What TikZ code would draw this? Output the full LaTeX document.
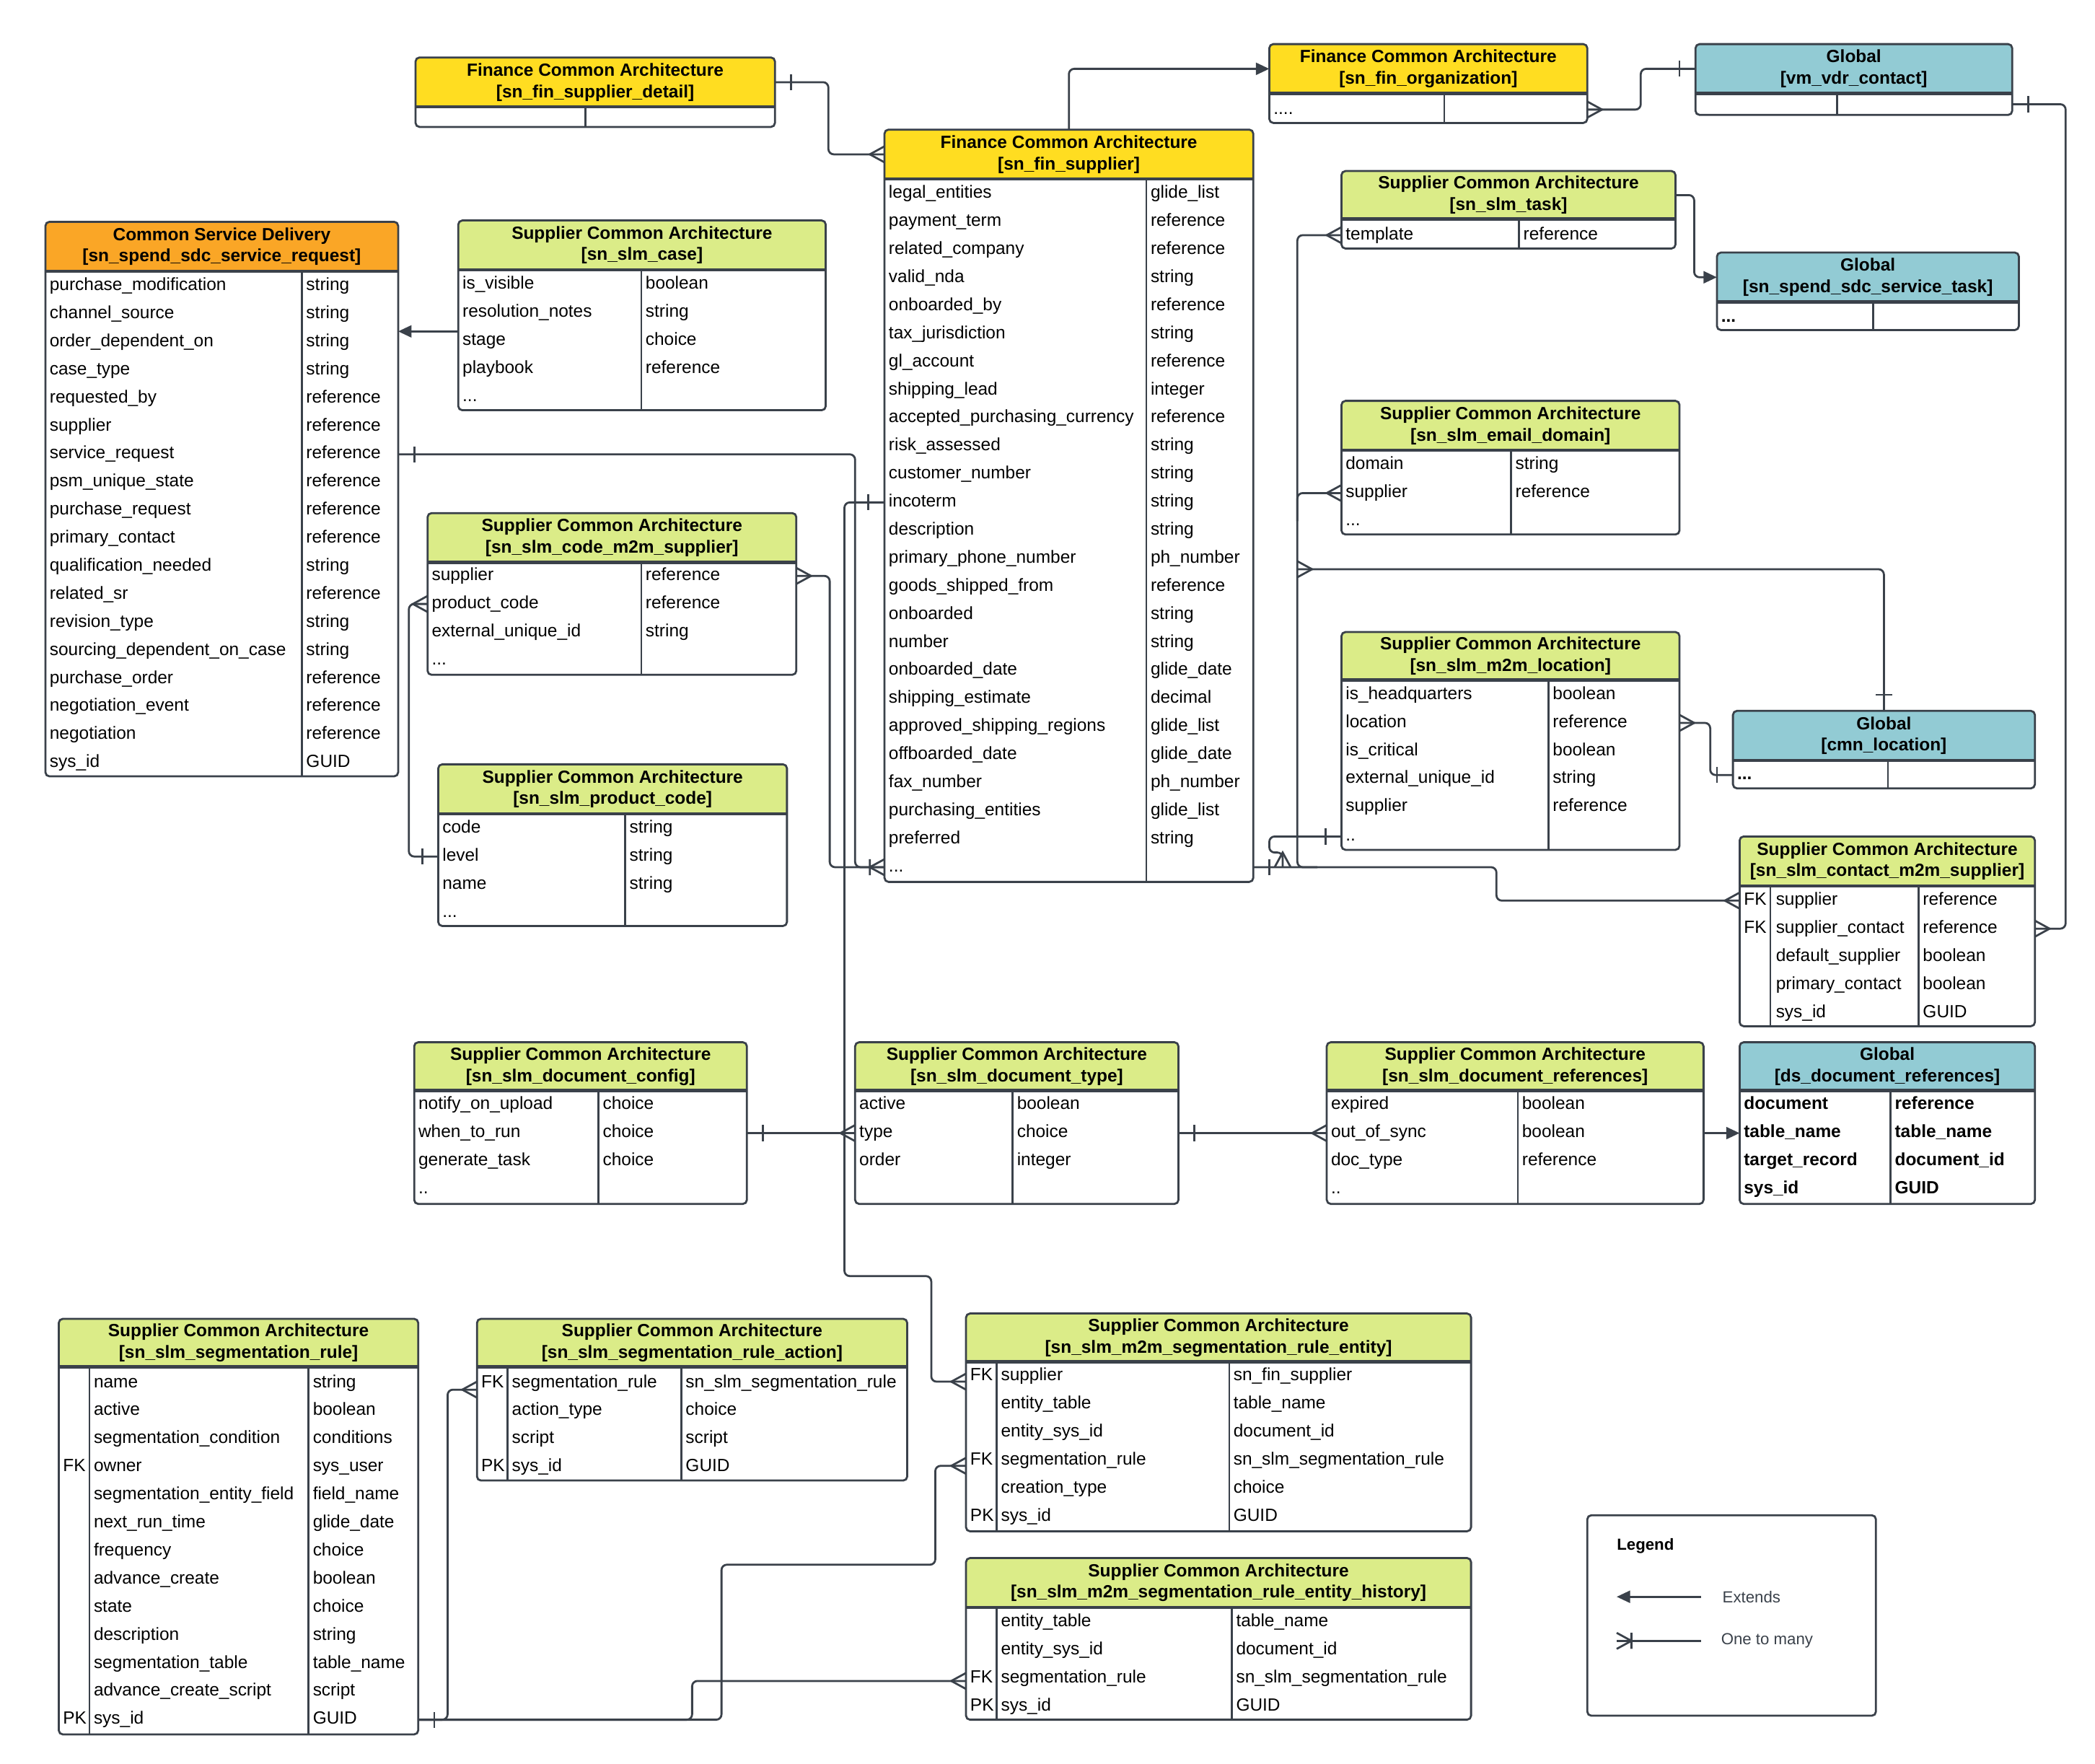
\documentclass[tikz,border=0pt]{standalone}
\usepackage{fontspec}
\setmainfont{Liberation Sans}
\usetikzlibrary{arrows.meta,calc}

\definecolor{linecol}{HTML}{3A414A}
\definecolor{finyellow}{HTML}{FFDD21}
\definecolor{sdcorange}{HTML}{FAA626}
\definecolor{slmgreen}{HTML}{DBEC88}
\definecolor{globalteal}{HTML}{92CBD4}

\pgfdeclarearrow{
  name = Crow,
  setup code = {
    \pgfarrowssettipend{0pt}
    \pgfarrowssetlineend{0pt}
    \pgfarrowssetbackend{-11pt}
    \pgfarrowsupperhullpoint{0pt}{6pt}
    \pgfarrowsupperhullpoint{-11pt}{0pt}
  },
  drawing code = {
    \pgfpathmoveto{\pgfqpoint{0pt}{6pt}}
    \pgfpathlineto{\pgfqpoint{-11pt}{0pt}}
    \pgfpathlineto{\pgfqpoint{0pt}{-6pt}}
    \pgfusepathqstroke
  }
}
\pgfdeclarearrow{
  name = OneBar,
  setup code = {
    \pgfarrowssettipend{0pt}
    \pgfarrowssetlineend{0pt}
    \pgfarrowssetbackend{-12pt}
    \pgfarrowsupperhullpoint{0pt}{0pt}
    \pgfarrowsupperhullpoint{-12pt}{6pt}
  },
  drawing code = {
    \pgfpathmoveto{\pgfqpoint{-12pt}{6pt}}
    \pgfpathlineto{\pgfqpoint{-12pt}{-6pt}}
    \pgfusepathqstroke
  }
}
\pgfdeclarearrow{
  name = CrowBar,
  setup code = {
    \pgfarrowssettipend{0pt}
    \pgfarrowssetlineend{0pt}
    \pgfarrowssetbackend{-11pt}
    \pgfarrowsupperhullpoint{0pt}{6pt}
    \pgfarrowsupperhullpoint{-11pt}{6pt}
  },
  drawing code = {
    \pgfpathmoveto{\pgfqpoint{0pt}{6pt}}
    \pgfpathlineto{\pgfqpoint{-11pt}{0pt}}
    \pgfpathlineto{\pgfqpoint{0pt}{-6pt}}
    \pgfpathmoveto{\pgfqpoint{-11pt}{6pt}}
    \pgfpathlineto{\pgfqpoint{-11pt}{-6pt}}
    \pgfusepathqstroke
  }
}

\newcommand{\ertable}[8]{%
  \node[tablebox, minimum width={#5-#3}, minimum height={#6-#4}] (#1) at ({(#3+#5)/2},{(#4+#6)/2}) {};
  \begin{scope}
    \clip (#3,#4) rectangle (#5,#7);
    \fill[#2, rounded corners=3pt] (#3,#4) rectangle (#5,#6);
  \end{scope}
  \draw[hdrrule] (#3,#7) -- (#5,#7);
  \path[frame] (#3,#4) rectangle (#5,#6);
  \node[titlebox, minimum width={#5-#3}, minimum height={#7-#4}] (#1-t) at ({(#3+#5)/2},{(#4+#7)/2}) {#8};
}

\begin{document}
\begin{tikzpicture}[x=1pt, y=-1pt,
  tablebox/.style={fill=white, rounded corners=3pt, inner sep=0pt, outer sep=0pt},
  frame/.style={draw=linecol, line width=1.5pt, rounded corners=3pt},
  hdrrule/.style={draw=linecol, line width=2.5pt},
  colrule/.style={draw=linecol, line width=1.5pt},
  titlebox/.style={inner sep=0pt, outer sep=0pt, align=center, font=\fontsize{13.2}{16}\selectfont\bfseries},
  cell/.style={anchor=west, inner sep=0pt, yshift=-2pt, text height=9.5pt, text depth=2.8pt, font=\fontsize{13.2}{16}\selectfont},
  boldcell/.style={cell, font=\fontsize{13.2}{16}\selectfont\bfseries},
  conn/.style={draw=linecol, line width=1.5pt, rounded corners=4pt},
  extends/.style={-{Triangle[length=10pt,width=9pt]}},
  legendtext/.style={anchor=west, inner sep=0pt, text=linecol, font=\fontsize{12}{14}\selectfont},
]
\useasboundingbox (0,0) rectangle (1568,1320);

\ertable{fsd}{finyellow}{311}{43}{580}{95}{80}{Finance Common Architecture\\{[sn\_fin\_supplier\_detail]}}
\draw[colrule] (438,80) -- (438,95);

\ertable{finsup}{finyellow}{662}{97}{938}{660}{134}{Finance Common Architecture\\{[sn\_fin\_supplier]}}
\draw[colrule] (858,134) -- (858,660);
\foreach \n/\t [count=\i from 0] in {legal\_entities/glide\_list, payment\_term/reference, related\_company/reference,
    valid\_nda/string, onboarded\_by/reference, tax\_jurisdiction/string, gl\_account/reference, shipping\_lead/integer,
    accepted\_purchasing\_currency/reference, risk\_assessed/string, customer\_number/string, incoterm/string,
    description/string, primary\_phone\_number/ph\_number, goods\_shipped\_from/reference, onboarded/string,
    number/string, onboarded\_date/glide\_date, shipping\_estimate/decimal, approved\_shipping\_regions/glide\_list,
    offboarded\_date/glide\_date, fax\_number/ph\_number, purchasing\_entities/glide\_list, preferred/string} {
  \node[cell] (finsup-\i) at (665,{143+21*\i}) {\n};
  \node[cell] at (861,{143+21*\i}) {\t};
}
\node[cell] (finsup-dots) at (665,647) {...};

\ertable{finorg}{finyellow}{950}{33}{1188}{92}{70}{Finance Common Architecture\\{[sn\_fin\_organization]}}
\draw[colrule] (1081,70) -- (1081,92);
\node[cell] (finorg-dots) at (953,80) {....};

\ertable{vmvdr}{globalteal}{1269}{33}{1506}{86}{70}{Global\\{[vm\_vdr\_contact]}}
\draw[colrule] (1375,70) -- (1375,86);

\ertable{slmtask}{slmgreen}{1004}{128}{1254}{186}{164}{Supplier Common Architecture\\{[sn\_slm\_task]}}
\draw[colrule] (1137,164) -- (1137,186);
\node[cell] (slmtask-0) at (1007,174) {template};
\node[cell] at (1140,174) {reference};

\ertable{sdctask}{globalteal}{1285}{189}{1511}{247}{226}{Global\\{[sn\_spend\_sdc\_service\_task]}}
\draw[colrule] (1402,226) -- (1402,247);
\node[boldcell] (sdctask-dots) at (1288,236) {...};

\ertable{email}{slmgreen}{1004}{300}{1257}{400}{337}{Supplier Common Architecture\\{[sn\_slm\_email\_domain]}}
\draw[colrule] (1131,337) -- (1131,400);
\foreach \n/\t [count=\i from 0] in {domain/string, supplier/reference} {
  \node[cell] (email-\i) at (1007,{346+21*\i}) {\n};
  \node[cell] at (1134,{346+21*\i}) {\t};
}
\node[cell] (email-dots) at (1007,388) {...};

\ertable{m2mloc}{slmgreen}{1004}{473}{1257}{636}{509}{Supplier Common Architecture\\{[sn\_slm\_m2m\_location]}}
\draw[colrule] (1159,509) -- (1159,636);
\foreach \n/\t [count=\i from 0] in {is\_headquarters/boolean, location/reference, is\_critical/boolean,
    external\_unique\_id/string, supplier/reference} {
  \node[cell] (m2mloc-\i) at (1007,{518+21*\i}) {\n};
  \node[cell] at (1162,{518+21*\i}) {\t};
}
\node[cell] (m2mloc-dots) at (1007,624) {..};

\ertable{cmnloc}{globalteal}{1297}{532}{1523}{590}{569}{Global\\{[cmn\_location]}}
\draw[colrule] (1413,569) -- (1413,590);
\node[boldcell] (cmnloc-dots) at (1300,578) {...};

\ertable{contact}{slmgreen}{1302}{626}{1523}{768}{663}{Supplier Common Architecture\\{[sn\_slm\_contact\_m2m\_supplier]}}
\draw[colrule] (1325,663) -- (1325,768);
\draw[colrule] (1436,663) -- (1436,768);
\foreach \k/\n/\t [count=\i from 0] in {FK/supplier/reference, FK/supplier\_contact/reference,
    /default\_supplier/boolean, /primary\_contact/boolean, /sys\_id/GUID} {
  \node[cell] at (1305,{672+21*\i}) {\k};
  \node[cell] (contact-\i) at (1329,{672+21*\i}) {\n};
  \node[cell] at (1439,{672+21*\i}) {\t};
}

\ertable{sr}{sdcorange}{34}{166}{298}{581}{203}{Common Service Delivery\\{[sn\_spend\_sdc\_service\_request]}}
\draw[colrule] (226,203) -- (226,581);
\foreach \n/\t [count=\i from 0] in {purchase\_modification/string, channel\_source/string, order\_dependent\_on/string,
    case\_type/string, requested\_by/reference, supplier/reference, service\_request/reference,
    psm\_unique\_state/reference, purchase\_request/reference, primary\_contact/reference,
    qualification\_needed/string, related\_sr/reference, revision\_type/string,
    sourcing\_dependent\_on\_case/string, purchase\_order/reference, negotiation\_event/reference,
    negotiation/reference, sys\_id/GUID} {
  \node[cell] (sr-\i) at (37,{212+21*\i}) {\n};
  \node[cell] at (229,{212+21*\i}) {\t};
}

\ertable{case}{slmgreen}{343}{165}{618}{307}{202}{Supplier Common Architecture\\{[sn\_slm\_case]}}
\draw[colrule] (480,202) -- (480,307);
\foreach \n/\t [count=\i from 0] in {is\_visible/boolean, resolution\_notes/string, stage/choice, playbook/reference} {
  \node[cell] (case-\i) at (346,{211+21*\i}) {\n};
  \node[cell] at (483,{211+21*\i}) {\t};
}
\node[cell] (case-dots) at (346,295) {...};

\ertable{codem2m}{slmgreen}{320}{384}{596}{505}{421}{Supplier Common Architecture\\{[sn\_slm\_code\_m2m\_supplier]}}
\draw[colrule] (480,421) -- (480,505);
\foreach \n/\t [count=\i from 0] in {supplier/reference, product\_code/reference, external\_unique\_id/string} {
  \node[cell] (codem2m-\i) at (323,{429+21*\i}) {\n};
  \node[cell] at (483,{429+21*\i}) {\t};
}
\node[cell] (codem2m-dots) at (323,492) {...};

\ertable{prodcode}{slmgreen}{328}{572}{589}{693}{609}{Supplier Common Architecture\\{[sn\_slm\_product\_code]}}
\draw[colrule] (468,609) -- (468,693);
\foreach \n/\t [count=\i from 0] in {code/string, level/string, name/string} {
  \node[cell] (prodcode-\i) at (331,{618+21*\i}) {\n};
  \node[cell] at (471,{618+21*\i}) {\t};
}
\node[cell] (prodcode-dots) at (331,681) {...};

\ertable{docconf}{slmgreen}{310}{780}{559}{901}{816}{Supplier Common Architecture\\{[sn\_slm\_document\_config]}}
\draw[colrule] (448,816) -- (448,901);
\foreach \n/\t [count=\i from 0] in {notify\_on\_upload/choice, when\_to\_run/choice, generate\_task/choice} {
  \node[cell] (docconf-\i) at (313,{825+21*\i}) {\n};
  \node[cell] at (451,{825+21*\i}) {\t};
}
\node[cell] (docconf-dots) at (313,888) {..};

\ertable{doctype}{slmgreen}{640}{780}{882}{901}{816}{Supplier Common Architecture\\{[sn\_slm\_document\_type]}}
\draw[colrule] (758,816) -- (758,901);
\foreach \n/\t [count=\i from 0] in {active/boolean, type/choice, order/integer} {
  \node[cell] (doctype-\i) at (643,{825+21*\i}) {\n};
  \node[cell] at (761,{825+21*\i}) {\t};
}

\ertable{docref}{slmgreen}{993}{780}{1275}{901}{816}{Supplier Common Architecture\\{[sn\_slm\_document\_references]}}
\draw[colrule] (1136,816) -- (1136,901);
\foreach \n/\t [count=\i from 0] in {expired/boolean, out\_of\_sync/boolean, doc\_type/reference} {
  \node[cell] (docref-\i) at (996,{825+21*\i}) {\n};
  \node[cell] at (1139,{825+21*\i}) {\t};
}
\node[cell] (docref-dots) at (996,888) {..};

\ertable{dsdoc}{globalteal}{1302}{780}{1523}{901}{816}{Global\\{[ds\_document\_references]}}
\draw[colrule] (1415,816) -- (1415,901);
\foreach \n/\t [count=\i from 0] in {document/reference, table\_name/table\_name, target\_record/document\_id, sys\_id/GUID} {
  \node[boldcell] (dsdoc-\i) at (1305,{825+21*\i}) {\n};
  \node[boldcell] at (1418,{825+21*\i}) {\t};
}

\ertable{segrule}{slmgreen}{44}{987}{313}{1298}{1023}{Supplier Common Architecture\\{[sn\_slm\_segmentation\_rule]}}
\draw[colrule] (67,1023) -- (67,1298);
\draw[colrule] (231,1023) -- (231,1298);
\foreach \k/\n/\t [count=\i from 0] in {/name/string, /active/boolean, /segmentation\_condition/conditions,
    FK/owner/sys\_user, /segmentation\_entity\_field/field\_name, /next\_run\_time/glide\_date,
    /frequency/choice, /advance\_create/boolean, /state/choice, /description/string,
    /segmentation\_table/table\_name, /advance\_create\_script/script, PK/sys\_id/GUID} {
  \node[cell] at (47,{1033+21*\i}) {\k};
  \node[cell] (segrule-\i) at (70,{1033+21*\i}) {\n};
  \node[cell] at (234,{1033+21*\i}) {\t};
}

\ertable{segaction}{slmgreen}{357}{987}{679}{1108}{1023}{Supplier Common Architecture\\{[sn\_slm\_segmentation\_rule\_action]}}
\draw[colrule] (380,1023) -- (380,1108);
\draw[colrule] (510,1023) -- (510,1108);
\foreach \k/\n/\t [count=\i from 0] in {FK/segmentation\_rule/sn\_slm\_segmentation\_rule, /action\_type/choice,
    /script/script, PK/sys\_id/GUID} {
  \node[cell] at (360,{1033+21*\i}) {\k};
  \node[cell] (segaction-\i) at (383,{1033+21*\i}) {\n};
  \node[cell] at (513,{1033+21*\i}) {\t};
}

\ertable{segentity}{slmgreen}{723}{983}{1101}{1146}{1019}{Supplier Common Architecture\\{[sn\_slm\_m2m\_segmentation\_rule\_entity]}}
\draw[colrule] (746,1019) -- (746,1146);
\draw[colrule] (920,1019) -- (920,1146);
\foreach \k/\n/\t [count=\i from 0] in {FK/supplier/sn\_fin\_supplier, /entity\_table/table\_name,
    /entity\_sys\_id/document\_id, FK/segmentation\_rule/sn\_slm\_segmentation\_rule,
    /creation\_type/choice, PK/sys\_id/GUID} {
  \node[cell] at (726,{1028+21*\i}) {\k};
  \node[cell] (segentity-\i) at (749,{1028+21*\i}) {\n};
  \node[cell] at (923,{1028+21*\i}) {\t};
}

\ertable{enthist}{slmgreen}{723}{1166}{1101}{1287}{1203}{Supplier Common Architecture\\{[sn\_slm\_m2m\_segmentation\_rule\_entity\_history]}}
\draw[colrule] (746,1203) -- (746,1287);
\draw[colrule] (922,1203) -- (922,1287);
\foreach \k/\n/\t [count=\i from 0] in {/entity\_table/table\_name, /entity\_sys\_id/document\_id,
    FK/segmentation\_rule/sn\_slm\_segmentation\_rule, PK/sys\_id/GUID} {
  \node[cell] at (726,{1212+21*\i}) {\k};
  \node[cell] (enthist-\i) at (749,{1212+21*\i}) {\n};
  \node[cell] at (925,{1212+21*\i}) {\t};
}

\coordinate (bus) at (971,649);

\draw[conn, {OneBar}-{Crow}] (fsd-t.east) -| (620,90) |- (finsup-t.west);
\draw[conn, extends] (finsup.north) |- (finorg-t.west);
\draw[conn, {Crow}-{OneBar}] (finorg.east |- finorg-dots) -| (1228,60) |- (vmvdr-t.west);
\draw[conn, {OneBar}-{Crow}] ([yshift=8pt]vmvdr.south east) -| (1546,400) |- (contact.east |- contact-1);
\draw[conn, extends] (slmtask-t.east) -| (1268,180) |- (sdctask-t.west);
\draw[conn, {Crow}-] (slmtask.west |- slmtask-0) -| (bus) -- ++(15,0);
\draw[conn, {Crow}-] (email.west |- email-1) -| (971,390);
\draw[conn, {OneBar}-{Crow}] (cmnloc.north) |- (bus |- 0,426);
\draw[conn, {Crow}-{OneBar}] (m2mloc.east |- m2mloc-1) -| (1280,560) |- (cmnloc.west |- cmnloc-dots);
\draw[conn, {OneBar}-{Crow}] (m2mloc.west |- m2mloc-dots) -| (950,638) -| (960,649);
\draw[conn, {OneBar}-{Crow}] (finsup.east |- finsup-dots) -| (1120,660) |- (contact.west |- contact-0);
\draw[conn, {OneBar}-{CrowBar}] (sr.east |- sr-6) -| (640,600) |- (finsup.west |- finsup-dots);
\draw[conn, {Crow}-] (codem2m.east |- codem2m-0) -| (621,600) |- (finsup.west |- finsup-dots);
\draw[conn, {Crow}-{OneBar}] (codem2m.west |- codem2m-1) -| (306,550) |- (prodcode.west |- prodcode-1);
\draw[conn, extends] ($(case.west |- case-2)+(0,-7)$) -- ($(sr.east |- case-2)+(0,-7)$);
\draw[conn, {OneBar}-{Crow}] (finsup.west |- finsup-11) -| (632,955) -| (697,1000) |- ($(segentity.west |- segentity-0)+(0,4)$);
\draw[conn, {OneBar}-{Crow}] (docconf.east |- doctype-1) -- (doctype.west |- doctype-1);
\draw[conn, {OneBar}-{Crow}] (doctype.east |- doctype-1) -- (docref.west |- doctype-1);
\draw[conn, extends] (docref.east |- doctype-1) -- (dsdoc.west |- doctype-1);
\draw[conn, {OneBar}-{Crow}] (segrule.east |- segrule-12) -| (335,1100) |- ($(segaction.west |- segaction-0)+(0,5)$);
\draw[conn, {OneBar}-{Crow}] (segrule.east |- segrule-12) -| (540,1171) -| (700,1130) |- ($(segentity.west |- segentity-3)+(0,4)$);
\draw[conn, {OneBar}-{Crow}] (segrule.east |- segrule-12) -| (518,1270) |- ($(enthist.west |- enthist-2)+(0,2)$);

\node[tablebox, draw=linecol, line width=1.5pt, minimum width=216, minimum height=150] (legend) at (1296,1209) {};
\node[anchor=west, inner sep=0pt, font=\fontsize{12}{14}\selectfont\bfseries] (legend-title) at (1210,1157) {Legend};
\node[legendtext] (ext-label) at (1289,1195) {Extends};
\node[legendtext] (otm-label) at (1288,1228) {One to many};
\coordinate (ext-from) at (1273,1195);
\coordinate (ext-to) at (1210,1195);
\coordinate (otm-from) at (1210,1228);
\coordinate (otm-to) at (1273,1228);
\draw[conn, extends] (ext-from) -- (ext-to);
\draw[conn, {CrowBar}-] (otm-from) -- (otm-to);
\end{tikzpicture}
\end{document}
